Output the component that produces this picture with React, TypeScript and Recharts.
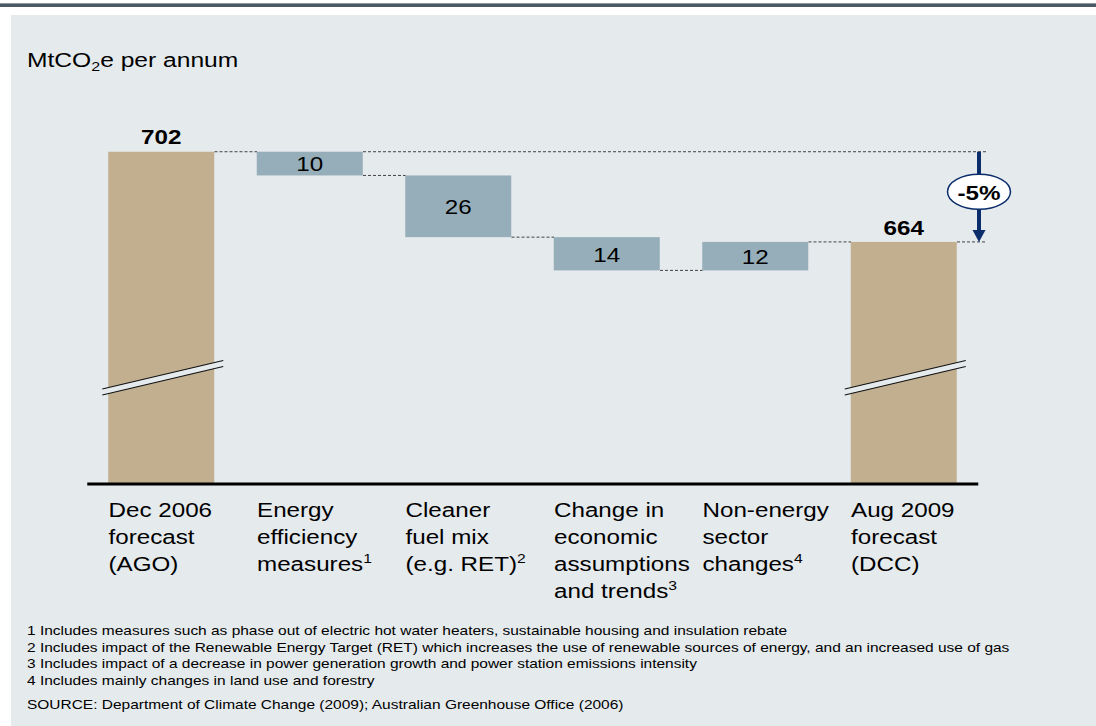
import { BarChart, Bar, XAxis, YAxis, ReferenceLine, LabelList } from 'recharts'

// chart values
const categories = ['Dec 2006 forecast (AGO)', 'Energy efficiency measures', 'Cleaner fuel mix (e.g. RET)', 'Change in economic assumptions and trends', 'Non-energy sector changes', 'Aug 2009 forecast (DCC)']
const tickLines = [
  ['Dec 2006', 'forecast', '(AGO)'],
  ['Energy', 'efficiency', 'measures'],
  ['Cleaner', 'fuel mix', '(e.g. RET)'],
  ['Change in', 'economic', 'assumptions', 'and trends'],
  ['Non-energy', 'sector', 'changes'],
  ['Aug 2009', 'forecast', '(DCC)'],
]
const noteMarks = ['', '1', '2', '3', '4', '']
const kinds = ['total', 'delta', 'delta', 'delta', 'delta', 'total']
const values = [702, -10, -26, -14, 12, 664]
const axisMin = 562
const axisMax = 720

const unitLabel = 'MtCO'
const footnotes = [
  '1 Includes measures such as phase out of electric hot water heaters, sustainable housing and insulation rebate',
  '2 Includes impact of the Renewable Energy Target (RET) which increases the use of renewable sources of energy, and an increased use of gas',
  '3 Includes impact of a decrease in power generation growth and power station emissions intensity',
  '4 Includes mainly changes in land use and forestry',
]
const source = 'SOURCE: Department of Climate Change (2009); Australian Greenhouse Office (2006)'

// layout
const W = 1096
const H = 726
const M = { top: 109, right: 117.75, bottom: 112, left: 87.25 }
const BAR = 106
const BAND = (W - M.left - M.right) / categories.length
const SX = 1.21 // the source text is drawn a little wide
const FONT = '"Liberation Sans", Arial, Helvetica, sans-serif'
const BG = '#e5eaed'
const TAN = '#c1af8f'
const BLUE = '#96aeb9'
const NAVY = '#0b2d6c'

// running levels of the waterfall
const endLevels: number[] = []
const data = categories.map((name, i) => {
  const prev = i === 0 ? 0 : endLevels[i - 1]
  if (kinds[i] === 'total') {
    endLevels.push(values[i])
    return { name, kind: 'total', range: [axisMin, values[i]], label: String(values[i]) }
  }
  const end = prev + values[i]
  endLevels.push(end)
  return { name, kind: 'delta', range: [Math.min(prev, end), Math.max(prev, end)], label: String(Math.abs(values[i])) }
})

const connectors = [
  ...endLevels.slice(0, -1).map((y, i) => ({ from: i, to: i + 1, y, edge: false })),
  { from: 1, to: categories.length - 1, y: values[0], edge: true },
  { from: categories.length - 1, to: categories.length - 1, y: values[values.length - 1], edge: true },
]
const changePct = Math.round(((values[values.length - 1] - values[0]) / values[0]) * 100)

function WideText({ x, y, bold, children, anchor = 'middle', size = 20 }: any) {
  return (
    <text
      transform={`translate(${x},${y}) scale(${SX},1)`}
      textAnchor={anchor}
      dominantBaseline="central"
      fontSize={size}
      fontWeight={bold ? 'bold' : 'normal'}
      fill="#000"
      fontFamily={FONT}
    >
      {children}
    </text>
  )
}

function WaterfallBar(p: any) {
  const { x, y, width, height, payload } = p
  const total = payload.kind === 'total'
  const bottom = y + height
  const x0 = x - 6
  const x1 = x + width + 9
  return (
    <g>
      <rect x={x} y={y} width={width} height={height} fill={total ? TAN : BLUE} />
      {total && (
        <g>
          <polygon points={`${x0},${bottom - 95} ${x1},${bottom - 123.5} ${x1},${bottom - 117.5} ${x0},${bottom - 89}`} fill={BG} />
          <line x1={x0} y1={bottom - 95} x2={x1} y2={bottom - 123.5} stroke="#111" strokeWidth={1.2} />
          <line x1={x0} y1={bottom - 89} x2={x1} y2={bottom - 117.5} stroke="#111" strokeWidth={1.2} />
        </g>
      )}
    </g>
  )
}

function BarLabel(p: any) {
  const { x, y, width, height, index } = p
  const d = data[index]
  if (d.kind === 'total') {
    return <WideText x={x + width / 2} y={y - 14} bold>{d.label}</WideText>
  }
  return <WideText x={x + width / 2} y={y + height / 2 + 1}>{d.label}</WideText>
}

function CategoryTick(p: any) {
  const { x, y, payload } = p
  const i = p.index ?? categories.indexOf(payload.value)
  const lines = tickLines[i]
  const left = x - BAR / 2
  return (
    <text transform={`translate(${left},${y}) scale(${SX},1)`} fontSize={20} fill="#000" fontFamily={FONT}>
      {lines.map((l, k) => (
        <tspan key={k} x={0} y={25 + k * 27}>
          {l}
          {k === lines.length - 1 && noteMarks[i] ? (
            <tspan dy={-8} fontSize={13}>{noteMarks[i]}</tspan>
          ) : null}
        </tspan>
      ))}
    </text>
  )
}

function Connector(p: any) {
  const { x1, y1, x2, edge } = p
  const xa = x1 + BAR / 2
  const xb = edge ? x2 + BAND / 2 + 8 : x2 - BAR / 2
  return <line x1={xa} y1={y1} x2={xb} y2={y1} stroke="#444" strokeWidth={1} strokeDasharray="3 2" />
}

function ChangeArrow(p: any) {
  const { x1, y1, y2 } = p
  const x = x1 + 0.75
  const cy = (y1 + y2) / 2 - 5
  return (
    <g>
      <line x1={x} y1={y1} x2={x} y2={y2 - 10} stroke={NAVY} strokeWidth={4} />
      <polygon points={`${x - 6.5},${y2 - 12} ${x + 6.5},${y2 - 12} ${x},${y2}`} fill={NAVY} />
      <ellipse cx={x} cy={cy} rx={31.5} ry={17.5} fill="#fff" stroke={NAVY} strokeWidth={1.5} />
      <WideText x={x} y={cy + 1} bold>{`${changePct}%`}</WideText>
    </g>
  )
}

const wide = (s: number) => ({ transform: `scaleX(${s})`, transformOrigin: 'left top' })

export default function App() {
  const last = categories[categories.length - 1]
  return (
    <div style={{ position: 'absolute', left: 0, top: 0, width: W, height: H, background: '#fff', fontFamily: FONT, overflow: 'hidden' }}>
      <div style={{ position: 'absolute', left: 0, top: 3, width: W, height: 1, background: '#8d979f' }} />
      <div style={{ position: 'absolute', left: 0, top: 4, width: W, height: 3, background: '#4c5863' }} />
      <div style={{ position: 'absolute', left: 11, top: 15, right: 0, bottom: 0, background: BG }} />

      <div style={{ position: 'absolute', left: 27, top: 49, fontSize: 20, color: '#000', whiteSpace: 'nowrap', ...wide(1.23) }}>
        {unitLabel}<sub style={{ fontSize: 13, verticalAlign: -4 }}>2</sub>e per annum
      </div>

      <div style={{ position: 'absolute', left: 0, top: 0 }}>
        <BarChart width={W} height={H} data={data} margin={M}>
          <XAxis
            dataKey="name"
            interval={0}
            height={130}
            tickLine={false}
            tickSize={6}
            tickMargin={2}
            axisLine={{ stroke: '#000', strokeWidth: 3 }}
            tick={<CategoryTick />}
          />
          <YAxis hide domain={[axisMin, axisMax]} allowDataOverflow />
          <Bar dataKey="range" barSize={BAR} isAnimationActive={false} shape={(p: any) => <WaterfallBar {...p} />}>
            <LabelList dataKey="range" content={(p: any) => <BarLabel {...p} />} />
          </Bar>
          {connectors.map((c, k) => (
            <ReferenceLine
              key={k}
              ifOverflow="visible"
              segment={[{ x: categories[c.from], y: c.y }, { x: categories[c.to], y: c.y }]}
              shape={(p: any) => <Connector {...p} edge={c.edge} />}
            />
          ))}
          <ReferenceLine
            ifOverflow="visible"
            position="end"
            segment={[{ x: last, y: values[0] }, { x: last, y: values[values.length - 1] }]}
            shape={(p: any) => <ChangeArrow {...p} />}
          />
        </BarChart>
      </div>

      <div style={{ position: 'absolute', left: 27, top: 623, fontSize: 13, lineHeight: '16.5px', color: '#000', whiteSpace: 'nowrap', ...wide(1.19) }}>
        {footnotes.map((f, k) => <div key={k}>{f}</div>)}
      </div>
      <div style={{ position: 'absolute', left: 27, top: 697, fontSize: 13, lineHeight: '16px', color: '#000', whiteSpace: 'nowrap', ...wide(1.19) }}>
        {source}
      </div>
    </div>
  )
}
